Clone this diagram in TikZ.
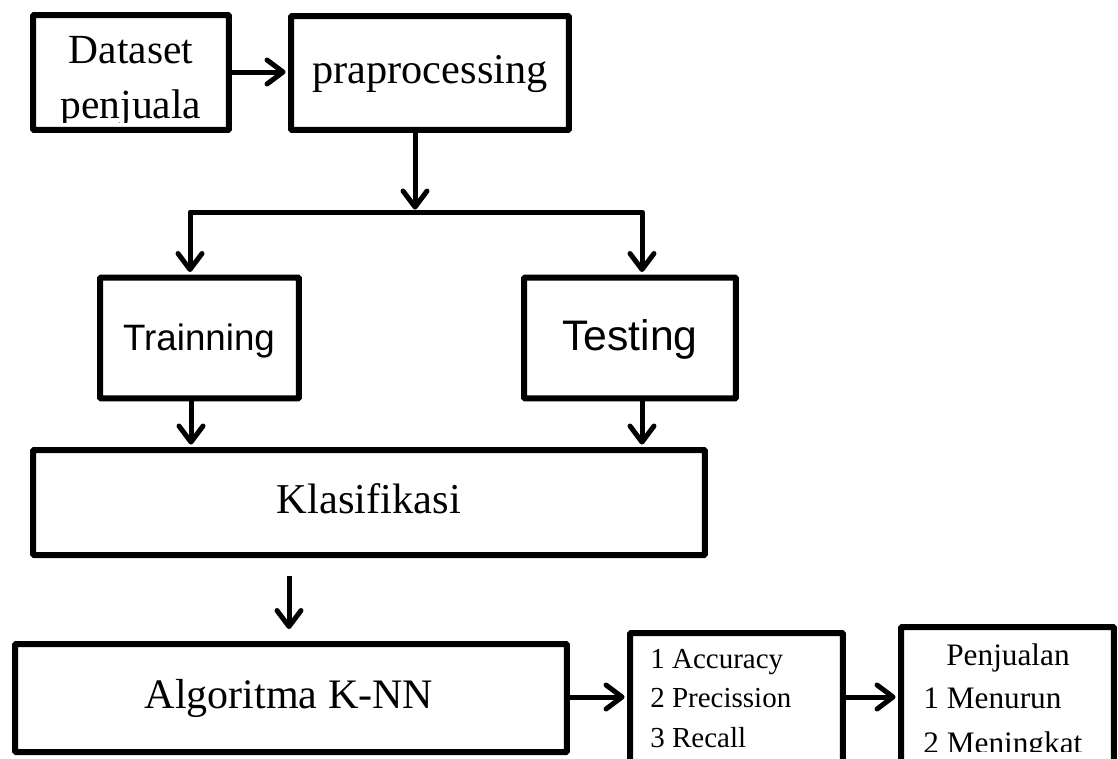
\documentclass[tikz,border=0pt]{standalone}
\usepackage{fontspec}
\setmainfont{Liberation Serif}
\newfontfamily\sansface{Liberation Sans}
\usetikzlibrary{arrows.meta}
\begin{document}
\begin{tikzpicture}[x=0.02cm,y=-0.02cm,
  box/.style={draw, line width=0.12cm, rounded corners=0.02cm, inner sep=0},
  lbl/.style={inner sep=0, anchor=base},
  lbll/.style={inner sep=0, anchor=base west},
  arr/.style={line width=0.1cm, line join=round,
    -{Straight Barb[length=0.32cm,width=0.48cm,round]}, shorten >=0.05cm},
  biarr/.style={line width=0.1cm, line join=round,
    {Straight Barb[length=0.32cm,width=0.48cm,round]}-{Straight Barb[length=0.32cm,width=0.48cm,round]},
    shorten >=0.05cm, shorten <=0.05cm}
]
\clip (0,0) rectangle (1118,758);

% boxes
\node[box, minimum width=3.92cm, minimum height=2.30cm] (data)  at (131,72.5) {};
\node[box, minimum width=5.56cm, minimum height=2.28cm] (prep)  at (430,73) {};
\node[box, minimum width=3.98cm, minimum height=2.42cm] (train) at (199.5,338) {};
\node[box, minimum width=4.24cm, minimum height=2.42cm] (test)  at (630,338) {};
\node[box, minimum width=13.44cm, minimum height=2.10cm] (klas) at (369,502.5) {};
\node[box, minimum width=11.04cm, minimum height=2.16cm] (algo) at (291,698) {};
\node[box, minimum width=4.26cm, minimum height=2.78cm] (res)   at (736.5,702.5) {};
\node[box, minimum width=4.26cm, minimum height=2.90cm] (pen)   at (1007.5,699.5) {};

% labels
\node[lbl, font=\fontsize{23.6}{28}\selectfont] (tdata1) at (131,63) {Dataset};
\begin{scope}
  \clip (36,18) rectangle (226,122);
  \node[lbl, font=\fontsize{23.6}{28}\selectfont] (tdata2) at (131,118) {penjuala};
\end{scope}
\node[lbl, font=\fontsize{24.1}{28}\selectfont] (tprep) at (430,83) {praprocessing};
\node[lbl, font=\sansface\fontsize{20.9}{24}\selectfont] (ttrain) at (199,350) {Trainning};
\node[lbl, font=\sansface\fontsize{24.3}{28}\selectfont] (ttest) at (630,350) {Testing};
\node[lbl, font=\fontsize{24.2}{28}\selectfont] (tklas) at (369,513) {Klasifikasi};
\node[lbl, font=\fontsize{23.9}{28}\selectfont] (talgo) at (289,708) {Algoritma K-NN};
\node[lbll, font=\fontsize{16.5}{20}\selectfont] (r1) at (650,668) {1 Accuracy};
\node[lbll, font=\fontsize{16.5}{20}\selectfont] (r2) at (650,707) {2 Precission};
\node[lbll, font=\fontsize{16.5}{20}\selectfont] (r3) at (650,747) {3 Recall};
\node[lbl, font=\fontsize{17.8}{22}\selectfont] (p0) at (1008,665) {Penjualan};
\node[lbll, font=\fontsize{17.8}{22}\selectfont] (p1) at (923,708) {1 Menurun};
\begin{scope}
  \clip (904,720) rectangle (1110,751);
  \node[lbll, font=\fontsize{17.8}{22}\selectfont] (p2) at (923,753) {2 Meningkat};
\end{scope}

% connectors
\coordinate (split) at (415,212);
\coordinate (hl) at (190,212);
\coordinate (hr) at (642,212);
\coordinate (ta) at (191,0);
\coordinate (ka) at (289,0);

\draw[arr] (data.east |- 0,72) -- (prep.west |- 0,72);
\draw[arr] (prep.south -| split) -- (split);
\draw[biarr] (train.north -| hl) -- (hl) -- (hr) -- (test.north -| hr);
\draw[arr] (train.south -| ta) -- (klas.north -| ta);
\draw[arr] (test.south -| hr) -- (klas.north -| hr);
\draw[arr, shorten <=0.36cm, shorten >=0.24cm] (klas.south -| ka) -- (algo.north -| ka);
\draw[arr] (algo.east |- 0,697) -- (res.west |- 0,697);
\draw[arr] (res.east |- 0,697) -- (pen.west |- 0,697);
\end{tikzpicture}
\end{document}
